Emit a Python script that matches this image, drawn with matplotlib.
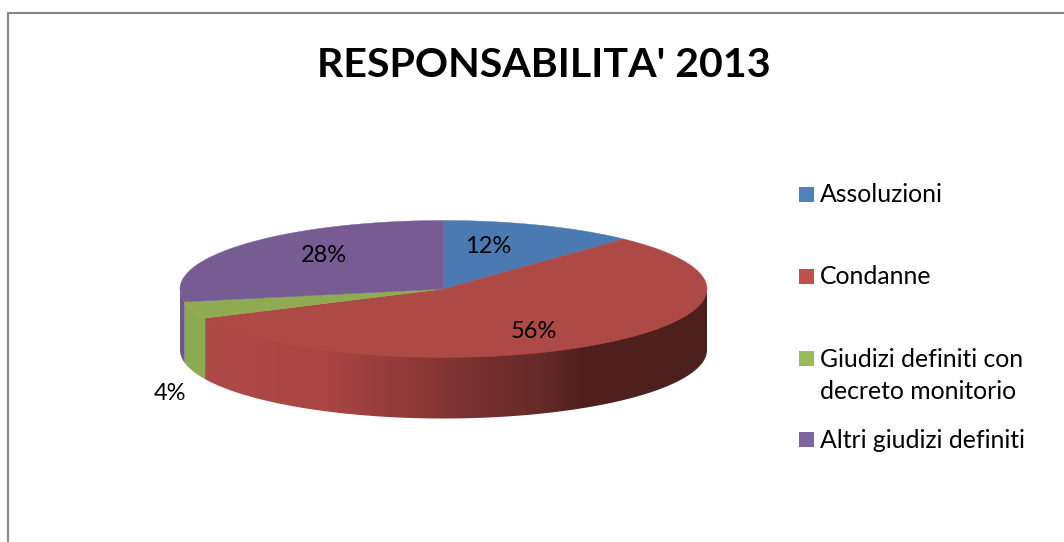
import numpy as np
import matplotlib
matplotlib.use('Agg')
import matplotlib.pyplot as plt
from matplotlib.colors import LinearSegmentedColormap
from matplotlib.patches import Polygon, Rectangle

plt.rcParams['font.family'] = ['Lato', 'DejaVu Sans']

title = "RESPONSABILITA' 2013"
categories = ['Assoluzioni', 'Condanne', 'Giudizi definiti con\ndecreto monitorio', 'Altri giudizi definiti']
values = [12, 56, 4, 28]
top_colors = ['#4A7AB1', '#AE4A46', '#8EAB52', '#775B93']
side_colors = ['#3A5F8A', '#AE4A46', '#8CAB50', '#6F5589']
legend_colors = ['#4F81BD', '#C0504D', '#9BBB59', '#8064A2']

# pie geometry, everything in pixels
CX, CY = 443.5, 289
RX, RY = 263.5, 68.5
DEPTH = 61


def rim(a0, a1, drop=0, n=200):
    # angles in degrees clockwise from 12 o'clock
    t = np.radians(np.linspace(a0, a1, n))
    return np.column_stack([CX + RX * np.sin(t), CY - RY * np.cos(t) + drop])


def wall(a0, a1, overlap=0):
    # overlap pushes the upper edge under the top face so no seam shows
    return np.vstack([rim(a0, a1, -overlap), rim(a1, a0, DEPTH)])


fig = plt.figure(figsize=(10.64, 5.42), dpi=100)
ax = fig.add_axes([0, 0, 1, 1])
ax.axis('off')

# chart frame, open on the right and at the bottom of the canvas
ax.plot([8.3, 8.3, 1064], [542, 13, 13], color='#868686', lw=1.5, solid_joinstyle='miter')

edges = np.concatenate([[0], np.cumsum(values)]) * 3.6

# front wall, only the part of each slice that faces the viewer
red_wall = Polygon(wall(90, edges[2], overlap=1.5), closed=True, fc='none', ec='none', zorder=2)
ax.add_patch(red_wall)
shade = LinearSegmentedColormap.from_list('shade', [
    (0.0, '#AE4A46'), (0.24, '#A94644'), (0.33, '#9A3F3E'), (0.45, '#8A3635'),
    (0.5, '#7C3331'), (0.67, '#662A28'), (0.76, '#4F201E'), (1.0, '#4D1F1D')])
grad = ax.imshow(np.linspace(0, 1, 500).reshape(1, -1), cmap=shade, aspect='auto',
                 extent=(205, 707, 430, 280), zorder=2)
grad.set_clip_path(red_wall)

ax.add_patch(Polygon(wall(edges[2], edges[3]), closed=True, fc=side_colors[2], ec='none', zorder=2))
ax.add_patch(Polygon(wall(edges[3], 270), closed=True, fc=side_colors[3], ec='none', zorder=2))

# top face
for i in range(len(values)):
    pts = np.vstack([[CX, CY], rim(edges[i], edges[i + 1])])
    ax.add_patch(Polygon(pts, closed=True, fc=top_colors[i], ec=top_colors[i], lw=0.3, zorder=3))

# percent labels
label_pos = [(488, 246.5), (533.5, 332), (170, 393.5), (323.5, 255)]
for v, (x, y) in zip(values, label_pos):
    ax.text(x, y, f'{v}%', fontsize=17, color='black', ha='center', va='center', zorder=4)

ax.text(543.5, 65.5, title, fontsize=29.6, fontweight='bold', color='black', ha='center', va='center')

# legend
swatch_y = [194.5, 276.5, 358.5, 439.5]
baseline_y = [202, 284, 399, 448]
for name, col, sy, by in zip(categories, legend_colors, swatch_y, baseline_y):
    ax.add_patch(Rectangle((799, sy - 7.5), 15, 15, fc=col, ec='none'))
    ax.text(820, by, name, fontsize=17.8, color='black', ha='left', va='baseline', linespacing=1.47)

ax.set_xlim(0, 1064)
ax.set_ylim(542, 0)

fig.savefig('out.png', dpi=100)
